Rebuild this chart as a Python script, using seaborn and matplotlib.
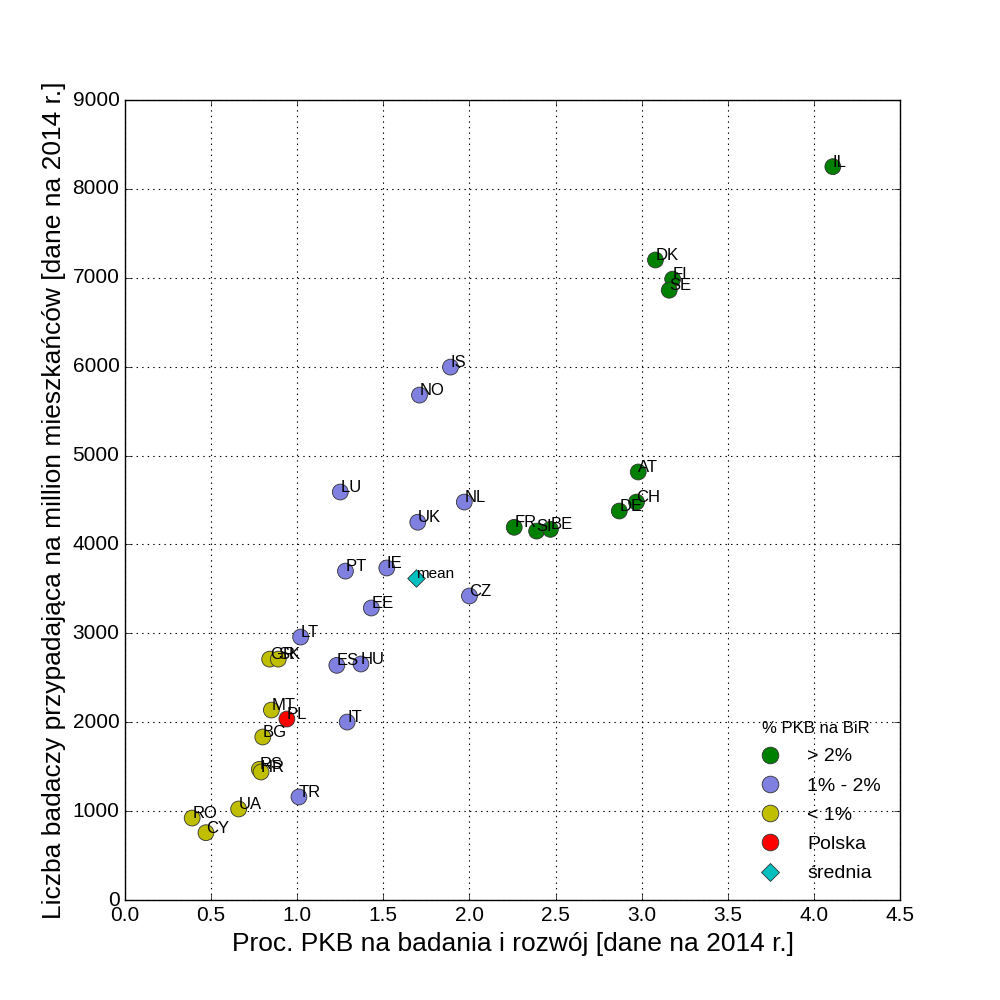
"""
Researchers per million inhabitants vs. R&D spending (% GDP), 2014
"""

import numpy as np
import pandas as pd
import matplotlib
matplotlib.use('Agg')
import matplotlib.pyplot as plt
import seaborn as sns
from matplotlib.lines import Line2D

# ==================== Data ====================
countries = ['IL', 'DK', 'FI', 'SE', 'AT', 'CH', 'DE', 'FR', 'SI', 'BE',
             'IS', 'NO', 'LU', 'NL', 'UK', 'PT', 'IE', 'CZ', 'EE', 'LT',
             'ES', 'HU', 'IT', 'TR',
             'GR', 'SK', 'MT', 'BG', 'RS', 'HR', 'UA', 'RO', 'CY',
             'PL']
gdp_rd = [4.11, 3.08, 3.18, 3.16, 2.98, 2.97, 2.87, 2.26, 2.39, 2.47,
          1.89, 1.71, 1.25, 1.97, 1.70, 1.28, 1.52, 2.00, 1.43, 1.02,
          1.23, 1.37, 1.29, 1.01,
          0.84, 0.89, 0.85, 0.80, 0.78, 0.79, 0.66, 0.39, 0.47,
          0.94]
researchers = [8250, 7200, 6985, 6860, 4815, 4477, 4376, 4193, 4150, 4170,
               5995, 5680, 4590, 4477, 4250, 3700, 3735, 3420, 3285, 2958,
               2640, 2655, 2002, 1159,
               2710, 2710, 2137, 1834, 1470, 1440, 1024, 922, 757,
               2036]
groups = (['> 2%'] * 10 + ['1% - 2%'] * 14 + ['< 1%'] * 9 + ['Polska'])

mean_x = 1.69
mean_y = 3620

group_order = ['> 2%', '1% - 2%', '< 1%', 'Polska']
group_colors = {'> 2%': 'g', '1% - 2%': '#8080e0', '< 1%': 'y', 'Polska': 'r'}

df = pd.DataFrame({'country': countries, 'gdp': gdp_rd,
                   'res': researchers, 'group': groups})

# ==================== Plot ====================
plt.style.use('classic')
plt.rcParams['font.family'] = ['Liberation Sans', 'DejaVu Sans']

fig, ax = plt.subplots(figsize=(10, 10), dpi=100)
fig.patch.set_facecolor('white')

sns.scatterplot(data=df, x='gdp', y='res', hue='group', hue_order=group_order,
                palette=group_colors, s=130, edgecolor='#333333', linewidth=0.6,
                legend=False, ax=ax, zorder=3)
ax.scatter([mean_x], [mean_y], marker='D', s=80, color='c',
           edgecolor='#333333', linewidth=0.6, zorder=3)

for _, row in df.iterrows():
    ax.text(row['gdp'], row['res'], row['country'], fontsize=12, zorder=4)
ax.text(mean_x, mean_y, 'mean', fontsize=11, zorder=4)

ax.set_xlim(0, 4.5)
ax.set_ylim(0, 9000)
ax.set_xticks(np.arange(0, 4.51, 0.5))
ax.set_yticks(np.arange(0, 9001, 1000))
ax.tick_params(labelsize=15)
ax.grid(True, linestyle=':', color='k', linewidth=0.8)
ax.set_axisbelow(True)

ax.set_xlabel('Proc. PKB na badania i rozwój [dane na 2014 r.]', fontsize=19)
ax.set_ylabel('Liczba badaczy przypadająca na million mieszkańców [dane na 2014 r.]',
              fontsize=19)

# legend
handles = [Line2D([], [], marker='o', linestyle='none', markersize=12,
                  markerfacecolor=group_colors[g], markeredgecolor='#333333',
                  markeredgewidth=0.6) for g in group_order]
handles.append(Line2D([], [], marker='D', linestyle='none', markersize=9,
                      markerfacecolor='c', markeredgecolor='#333333',
                      markeredgewidth=0.6))
labels = group_order + ['średnia']
leg = ax.legend(handles, labels, loc='lower right', frameon=False, fontsize=14,
                title='% PKB na BiR', numpoints=1, labelspacing=0.6,
                handletextpad=0.9, bbox_to_anchor=(0.998, 0.0))
leg.get_title().set_fontsize(12)

fig.subplots_adjust(left=0.125, right=0.9, bottom=0.1, top=0.9)
plt.savefig('out.png', dpi=100, facecolor='white')
